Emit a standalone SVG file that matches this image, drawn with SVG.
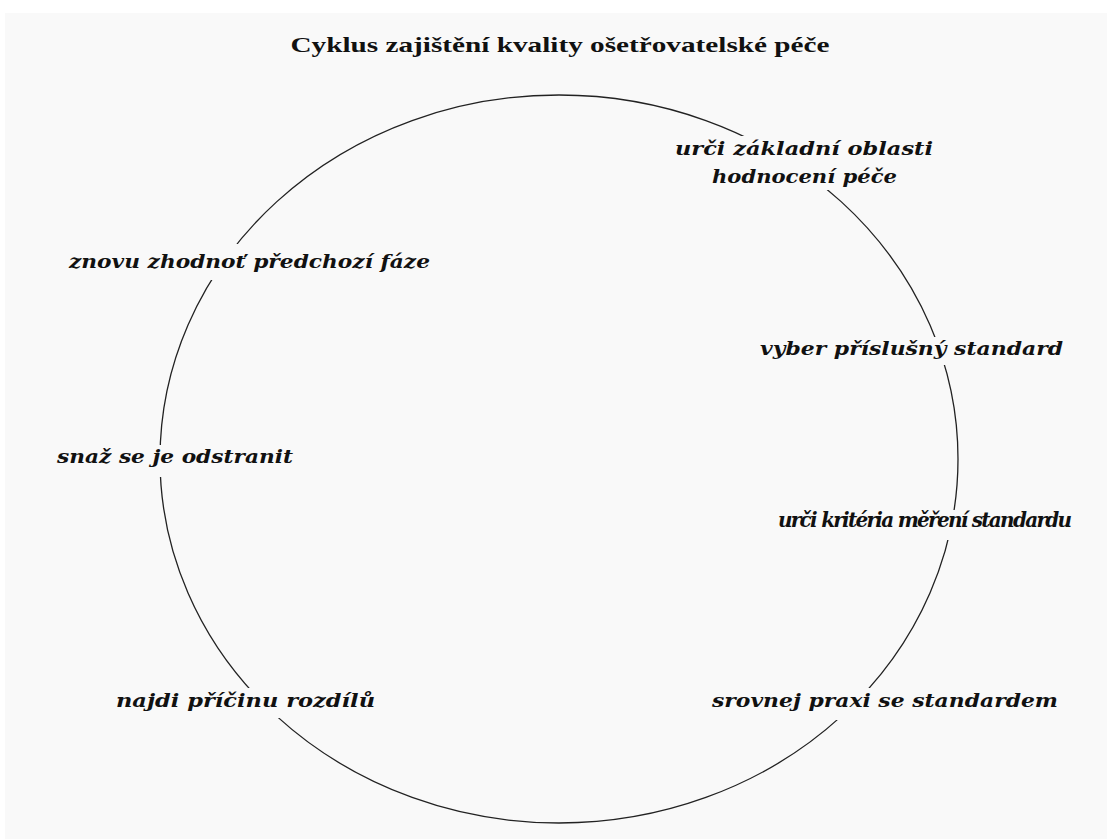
<svg xmlns="http://www.w3.org/2000/svg" width="1112" height="839" viewBox="0 0 1112 839">
<style>
.bg{fill:#f9f9f9}
.lbl{font-family:"DejaVu Serif","Liberation Serif",serif;font-style:italic;font-weight:bold;font-size:19px;fill:#111;text-anchor:middle}
.title{font-family:"Liberation Serif","DejaVu Serif",serif;font-weight:bold;font-size:22px;fill:#111;text-anchor:middle}
.cyc{fill:none;stroke:#222;stroke-width:1.3}
</style>
<rect x="0" y="0" width="1112" height="839" fill="#ffffff"/>
<rect class="bg" x="5" y="13" width="1102" height="826"/>
<text class="title" x="560" y="52" textLength="539" lengthAdjust="spacingAndGlyphs">Cyklus zajištění kvality ošetřovatelské péče</text>
<g id="connectors">
<ellipse class="cyc" cx="559" cy="459" rx="399" ry="364"/>
</g>
<g id="n1">
<rect class="bg" x="672" y="136" width="265" height="54"/>
<text class="lbl" x="804" y="155" textLength="258" lengthAdjust="spacingAndGlyphs">urči základní oblasti</text>
<text class="lbl" x="804.5" y="183" textLength="185" lengthAdjust="spacingAndGlyphs">hodnocení péče</text>
</g>
<g id="n2">
<rect class="bg" x="757" y="337" width="310" height="28"/>
<text class="lbl" x="911.5" y="355" textLength="303" lengthAdjust="spacingAndGlyphs">vyber příslušný standard</text>
</g>
<g id="n3">
<rect class="bg" x="775" y="510" width="301" height="30"/>
<text class="lbl" x="925" y="527" style="font-size:20px" textLength="294" lengthAdjust="spacing">urči kritéria měření standardu</text>
</g>
<g id="n4">
<rect class="bg" x="709" y="688" width="352" height="32"/>
<text class="lbl" x="885" y="707" textLength="346" lengthAdjust="spacingAndGlyphs">srovnej praxi se standardem</text>
</g>
<g id="n5">
<rect class="bg" x="113" y="688" width="265" height="30"/>
<text class="lbl" x="245.5" y="707" textLength="259" lengthAdjust="spacingAndGlyphs">najdi příčinu rozdílů</text>
</g>
<g id="n6">
<rect class="bg" x="54" y="445" width="242" height="32"/>
<text class="lbl" x="175" y="463" textLength="236" lengthAdjust="spacingAndGlyphs">snaž se je odstranit</text>
</g>
<g id="n7">
<rect class="bg" x="66" y="244" width="367" height="36"/>
<text class="lbl" x="249.5" y="268" textLength="361" lengthAdjust="spacingAndGlyphs">znovu zhodnoť předchozí fáze</text>
</g>
</svg>
